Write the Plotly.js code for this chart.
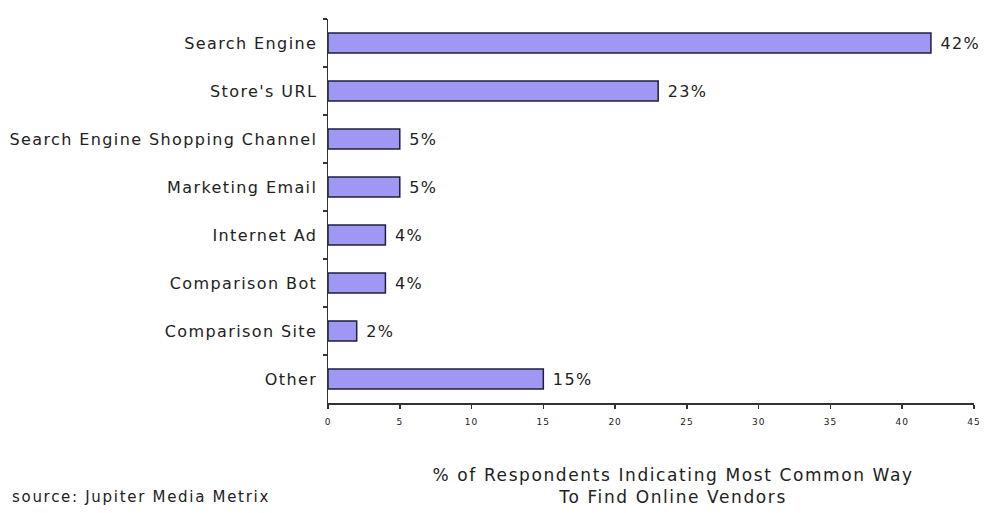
<!DOCTYPE html>
<html><head><meta charset="utf-8">
<script src="https://cdn.plot.ly/plotly-3.0.1.min.js"></script>
<style>
html,body{margin:0;padding:0;background:#fff;}
#chart{width:989px;height:513px;}
.ytick text{letter-spacing:1.4px;}
.xtick text{letter-spacing:1px;}
text.bartext{letter-spacing:1.4px;}
.annotation text{letter-spacing:1.6px;}
.annotation[data-index="1"] text{letter-spacing:1.7px;}
</style>
</head><body><div id="chart"></div>
<script>
const categories = ["Search Engine","Store's URL","Search Engine Shopping Channel","Marketing Email","Internet Ad","Comparison Bot","Comparison Site","Other"];
const values = [42, 23, 5, 5, 4, 4, 2, 15];
const xTicks = [0,5,10,15,20,25,30,35,40,45];

const font = "Verdana, 'DejaVu Sans', sans-serif";
const trace = {
  type: 'bar', orientation: 'h',
  y: categories, x: values,
  width: 0.42,
  marker: {color: '#9e98f2', line: {color: '#1f1f40', width: 1.5}},
  text: values.map(v => '\u00a0' + v + '%'),
  textposition: 'outside',
  textfont: {family: font, size: 16, color: '#222'},
  cliponaxis: false,
  hoverinfo: 'none'
};
const layout = {
  width: 989, height: 513,
  margin: {l: 328, r: 15, t: 19, b: 110},
  paper_bgcolor: '#fff', plot_bgcolor: '#fff',
  showlegend: false,
  xaxis: {
    range: [0, 45], tickvals: xTicks, ticktext: xTicks.map(String),
    showgrid: false, zeroline: false, showline: true, linecolor: '#333', linewidth: 1.5,
    ticks: 'outside', ticklen: 4, tickcolor: '#333', tickwidth: 1.5, ticklabelstandoff: 6,
    tickfont: {family: font, size: 9, color: '#222'}, fixedrange: true
  },
  yaxis: {
    autorange: 'reversed', type: 'category',
    showgrid: false, zeroline: false, showline: true, linecolor: '#333', linewidth: 1.5,
    ticks: 'outside', tickson: 'boundaries', ticklen: 4, tickcolor: '#333', tickwidth: 1.5,
    ticklabelstandoff: 6,
    tickfont: {family: font, size: 16, color: '#222'}, fixedrange: true
  },
  annotations: [
    {xref: 'paper', yref: 'paper', x: 0.5, y: 0, xanchor: 'center', yanchor: 'middle', showarrow: false,
     text: '% of Respondents Indicating Most Common Way<br>To Find Online Vendors',
     font: {family: font, size: 17, color: '#222'}, align: 'center'},
    {xref: 'paper', yref: 'paper', x: 0, y: 0, xanchor: 'left', yanchor: 'middle', showarrow: false,
     text: 'source: Jupiter Media Metrix', font: {family: font, size: 15, color: '#222'}, align: 'left'}
  ]
};
const plotW = 989 - 328 - 15, plotH = 513 - 19 - 110;
layout.annotations[0].x = (673 - 328) / plotW;
layout.annotations[0].y = (403 - 486) / plotH;
layout.annotations[1].x = (10 - 328) / plotW;
layout.annotations[1].y = (403 - 497) / plotH;
Plotly.newPlot('chart', [trace], layout, {displayModeBar: false, staticPlot: true});
</script></body></html>
